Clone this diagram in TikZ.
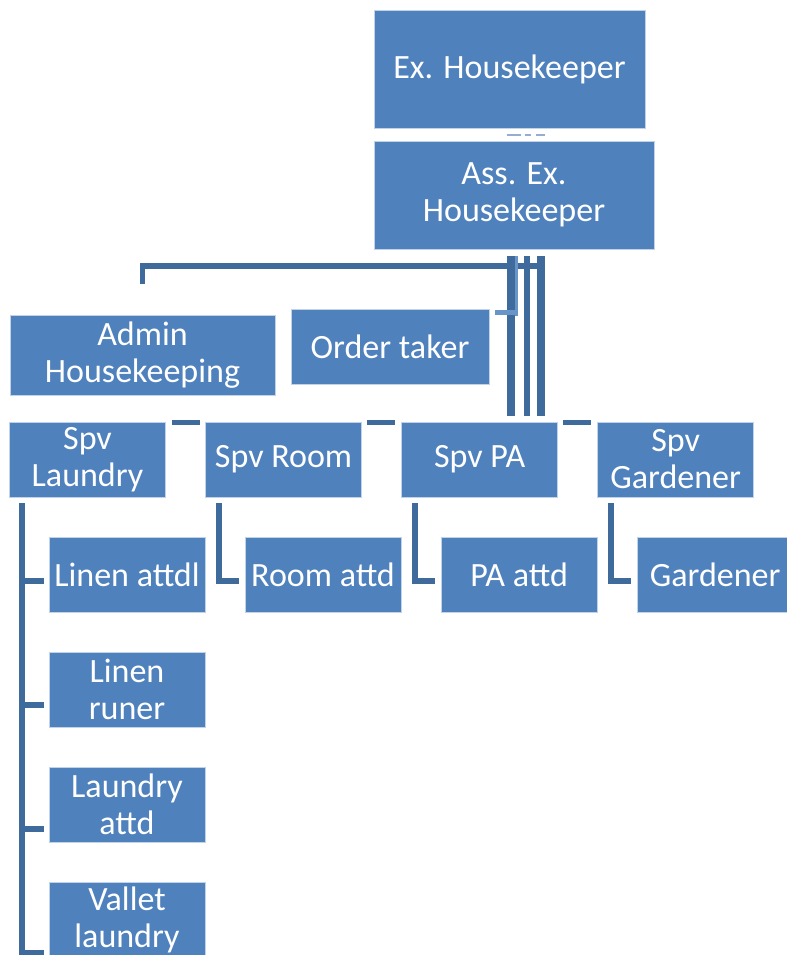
\documentclass[tikz,border=0pt]{standalone}
\usepackage{fontspec}
\setmainfont{Carlito}
\usetikzlibrary{positioning,calc}
\definecolor{boxblue}{HTML}{4F81BD}
\definecolor{linkblue}{HTML}{3E6A9C}
\definecolor{paleblue}{HTML}{94AED3}

\begin{document}
\begin{tikzpicture}[x=0.025cm, y=-0.025cm, node distance=4.9cm, on grid,
  box/.style={fill=boxblue, draw=white!65!boxblue, line width=0.6pt, text=white, align=center,
    inner sep=0pt, outer sep=0pt, font=\fontsize{24.2}{26.3}\selectfont,
    minimum width=156*0.025cm, minimum height=75*0.025cm},
  size/.style 2 args={minimum width=#1*0.025cm, minimum height=#2*0.025cm},
  conn/.style={draw=linkblue, line width=4pt},
  faint/.style={draw=boxblue!85!white, line width=2.5pt}]
\useasboundingbox (0,0) rectangle (787,955);
\clip (0,0) rectangle (787,955);

% top of the chart
\node[box, size={271}{118}] (exh) at (509.5,69) {Ex. Housekeeper};
\node[box, size={280}{108}] (ass) at (514,195) {Ass. Ex.\\Housekeeper};
\node[box, size={265}{80}] (adm) at (142.5,355) {Admin\\Housekeeping};
\node[box, size={198}{75}] (ord) at (390,346.5) {Order taker};

% supervisors
\node[box] (spvl) at (87.5,459.5) {Spv\\Laundry};
\node[box, right=of spvl] (spvr) {Spv Room};
\node[box, right=of spvr] (spvp) {Spv PA};
\node[box, right=of spvp] (spvg) {Spv\\Gardener};

% staff
\node[box] (lina) at (127,574.5) {Linen attdl};
\node[box, right=of lina] (rooa) {Room attd};
\node[box, right=of rooa] (paat) {PA attd};
\node[box, right=of paat] (gard) {Gardener};
\node[box, below=2.875cm of lina] (linr) {Linen\\runer};
\node[box, below=2.875cm of linr] (laua) {Laundry\\attd};
\node[box, below=2.875cm of laua] (val) {Vallet\\laundry};

% broken links under the top box
\draw[draw=paleblue, line width=1.3pt] ($(exh.south)+(-2.5,7)$) -- ++(14,0)
  ($(exh.south)+(15.5,7)$) -- ++(6,0) ($(exh.south)+(26.5,7)$) -- ++(9,0);

% links from the assistant
\draw[conn] ($(adm.north)+(0,-31)$) |- ($(ass.south)+(27,16.8)$);
\draw[conn, line width=5.5pt] ($(ass.south)+(-3,7)$) -- ++(0,160);
\draw[faint] ($(ass.south)+(2.6,7)$) -- ++(0,60);
\draw[faint, line width=3.5pt] ($(ord.east)+(6,-34)$) -- ++(22,0);
\draw[conn] ($(ass.south)+(13,7)$) -- ++(0,160);
\draw[conn, line width=5.7pt] ($(ass.south)+(27,7)$) -- ++(0,160);

% short dashes between supervisors
\draw[conn] ($(spvl.north east)+(6,0.5)$) -- ++(28,0);
\draw[conn] ($(spvr.north east)+(5,0.5)$) -- ++(28,0);
\draw[conn] ($(spvp.north east)+(5,0.5)$) -- ++(28,0);

% laundry column
\coordinate (lt) at ($(spvl.south west)+(12.5,6)$);
\draw[conn] (lt) |- ($(lina.west)+(-5,6.5)$);
\draw[conn] (lt) |- ($(linr.west)+(-5,15.5)$);
\draw[conn] (lt) |- ($(laua.west)+(-5,24.5)$);
\draw[conn] (lt) |- ($(val.west)+(-5,33)$);

% other columns
\draw[conn] ($(spvr.south west)+(13.5,6)$) |- ($(rooa.west)+(-6,6.5)$);
\draw[conn] ($(spvp.south west)+(13.5,6)$) |- ($(paat.west)+(-6,6.5)$);
\draw[conn] ($(spvg.south west)+(13.5,6)$) |- ($(gard.west)+(-6,6.5)$);
\end{tikzpicture}
\end{document}
